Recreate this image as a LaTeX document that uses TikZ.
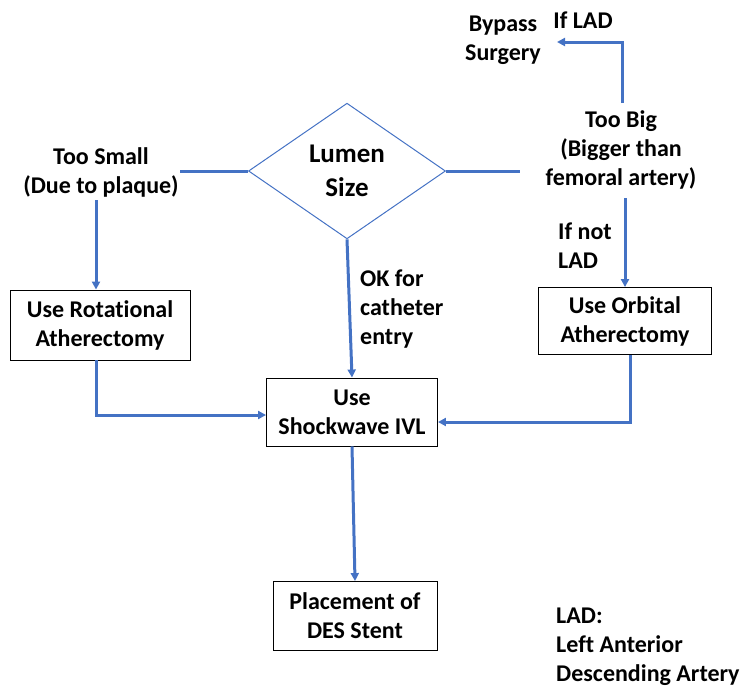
\documentclass[tikz,border=0pt]{standalone}
\usepackage{fontspec}
\setmainfont{Carlito}[Ligatures=NoCommon]
\usetikzlibrary{arrows.meta,shapes.geometric,calc}
\definecolor{lnblue}{HTML}{4472C4}
\begin{document}
\begin{tikzpicture}[x=1pt,y=-1pt,
  every node/.style={font=\fontsize{24}{29}\selectfont\bfseries, align=center, inner sep=2pt},
  box/.style={draw=black, line width=0.9pt},
  conn/.style={draw=lnblue, line width=3pt},
  arr/.style={conn, -{Triangle[length=8pt,width=8pt]}}]
\useasboundingbox (0,0) rectangle (746,689);

\node[diamond, draw=lnblue, line width=1pt, minimum width=197pt, minimum height=122pt, font=\fontsize{27}{34}\selectfont\bfseries] (dia) at (347,171) {Lumen\\Size};
\node (small) at (101,172) {Too Small\\(Due to plaque)};
\node (big) at (621,150) {Too Big\\(Bigger than\\femoral artery)};
\node (bypass) at (503,40) {Bypass\\Surgery};
\node (iflad) at (583,20) {If LAD};
\node[anchor=west, align=left] (ifnot) at (556,246) {If not\\LAD};
\node[anchor=west, align=left] (ok) at (358,309) {OK for\\catheter\\entry};
\node[box, minimum width=180pt, minimum height=70pt] (rot) at (100,325) {Use Rotational\\Atherectomy};
\node[box, minimum width=173pt, minimum height=67pt] (orb) at (625,321) {Use Orbital\\Atherectomy};
\node[box, minimum width=171pt, minimum height=68pt] (ivl) at (352,412) {Use\\Shockwave IVL};
\node[box, minimum width=164pt, minimum height=69pt] (stent) at (355,616) {Placement of\\DES Stent};
\node[anchor=west, align=left] (lad) at (554,647) {LAD:\\Left Anterior\\Descending Artery};

\coordinate (sl) at (180,171);
\coordinate (sr) at (520,171);
\coordinate (sd) at (96,200);
\coordinate (bu) at (622,103);
\coordinate (bp) at (557,42);
\coordinate (bd) at (625,198);

\draw[conn] (dia.west) -- (sl);
\draw[conn] (dia.east) -- (sr);
\draw[arr] (sd) -- (sd |- rot.north);
\draw[arr] (bu) |- (bp);
\draw[arr] (bd) -- (bd |- orb.north);
\draw[arr] (dia.south) -- (ivl.north);
\draw[arr] ([xshift=-4pt]rot.south) |- ([yshift=-3pt]ivl.west);
\draw[arr] ([xshift=5pt]orb.south) |- ([yshift=-10pt]ivl.east);
\draw[arr] (ivl.south) -- (stent.north);
\end{tikzpicture}
\end{document}
